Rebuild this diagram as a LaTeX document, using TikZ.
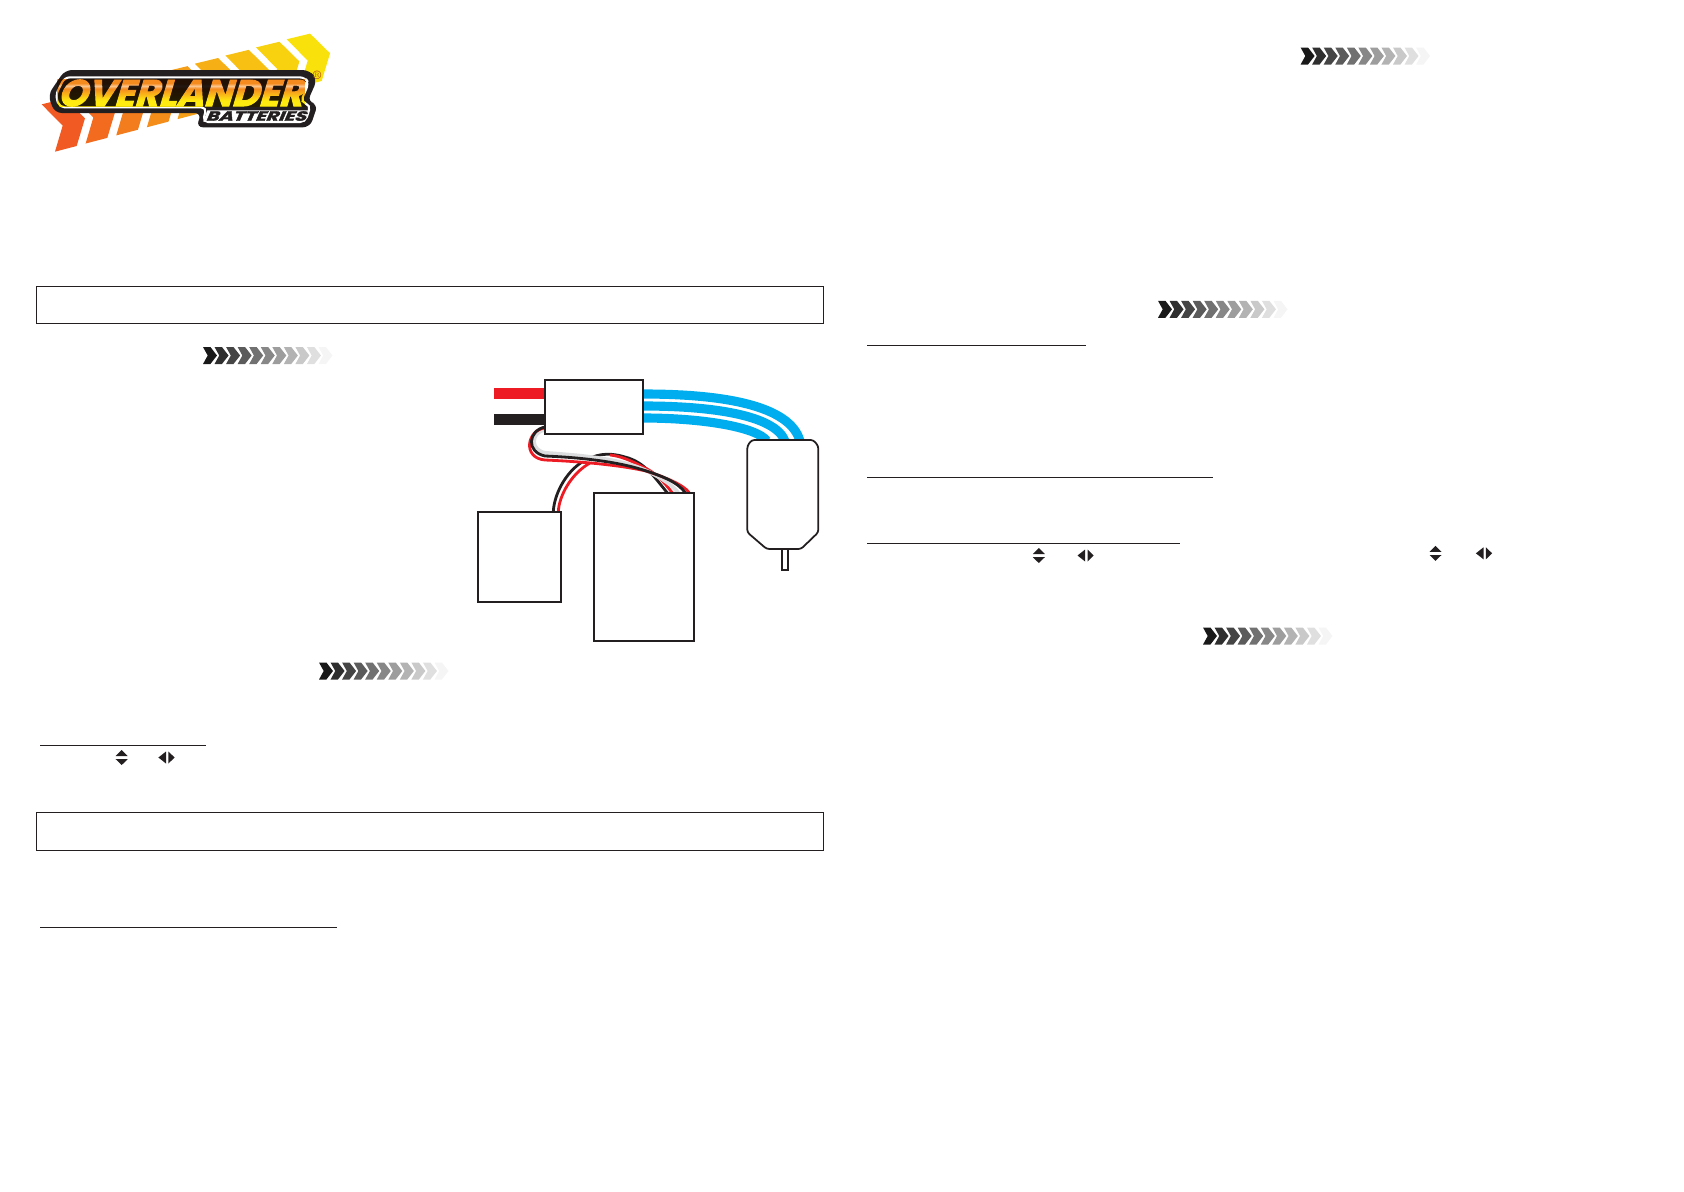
\documentclass[tikz,border=0pt]{standalone}
\usepackage{fontspec}
\usepackage{graphicx}
\usetikzlibrary{backgrounds}
\newfontfamily\logofont[FakeSlant=.3,BoldFeatures={FakeBold=2.5}]{Poppins}
\definecolor{inkblack}{HTML}{231F20}
\definecolor{wirered}{HTML}{ED1C24}
\definecolor{wireblue}{HTML}{00AEEF}
\definecolor{wiregray}{HTML}{DCDDDE}
\definecolor{logoorange}{HTML}{F15A22}
\definecolor{logoyellow}{HTML}{F9E20C}
\definecolor{bandlow}{HTML}{FFEB10}
\definecolor{bandmid}{HTML}{F58A1F}
\definecolor{bandlight}{HTML}{FBC58C}
\pgfdeclareverticalshading{logoband}{100bp}{color(0bp)=(bandlow);color(25bp)=(bandlow);color(36bp)=(bandlow);color(58bp)=(bandmid);color(63bp)=(bandlight);color(68bp)=(bandmid);color(75bp)=(bandmid);color(100bp)=(bandmid)}
\tikzset{
  sectionbox/.style={draw=inkblack, line width=.45pt, minimum width=15.75cm, inner sep=0pt, outer sep=0pt},
  partbox/.style={draw=inkblack, fill=white, line width=1pt, inner sep=0pt, outer sep=0pt},
  leadred/.style={draw=wirered, line width=1.6pt},
  leadblack/.style={draw=inkblack, line width=1.6pt},
  leadgray/.style={draw=wiregray, line width=2.2pt},
  motorlead/.style={draw=wireblue, line width=5.2pt},
  rule/.style={draw=inkblack, line width=.45pt},
  chevronstrip/.pic={
    \foreach \n in {0,...,10} {
      \pgfmathsetmacro\inkval{90-8.6*\n}
      \fill[black!\inkval] ({11.55*\n},-8.5) -- ++(7.4,0) -- ++(6.6,8.5) -- ++(-6.6,8.5) -- ++(-7.4,0) -- ++(4.7,-8.5) -- cycle;
    }
  },
  updownmark/.pic={
    \fill[inkblack] (-6,-1.5) -- (0,-7.5) -- (6,-1.5) -- cycle;
    \fill[inkblack] (-6,1.7) -- (0,7.5) -- (6,1.7) -- cycle;
  },
  leftrightmark/.pic={
    \fill[inkblack] (-1.2,-6) -- (-8.8,0) -- (-1.2,6) -- cycle;
    \fill[inkblack] (1.2,-6) -- (7.4,0) -- (1.2,6) -- cycle;
  }
}
\begin{document}
\begin{tikzpicture}[x=.02cm, y=-.02cm]
    \useasboundingbox (0,0) rectangle (1684,1191);

    \begin{scope}[shift={(20,20)}, x=.00667cm, y=-.00667cm]
        \foreach \k in {0,...,8} {
            \pgfmathsetmacro\mixval{\k*100/8}
            \fill[logoyellow!\mixval!logoorange] ({65+91.9*\k},{253-24.4*\k}) -- ++(70,-17) -- ++(60,59) -- ++(-25,83) -- ++(-65,17) -- ++(23,-78) -- cycle;
        }
        \fill[inkblack, rounded corners=4pt] (135,150) -- (868,150) -- (892,178) -- (862,246) -- (894,252) -- (870,322) -- (528,322) -- (545,279) -- (104,279) -- (84,225) -- cycle;
        \draw[white, line width=1.2pt, rounded corners=3pt] (134,172) -- (855,172) -- (866,190) -- (842,246) -- (872,255) -- (856,306) -- (548,306) -- (560,262) -- (118,262) -- (107,225) -- cycle;
        \fill[white] (562,271) -- (864,271) -- (854,305) -- (550,305) -- cycle;
        \node[text=white, inner sep=0pt] (logoname) at (480,219) {\resizebox{4.9cm}{.53cm}{\logofont\bfseries OVERLANDER}};
        \begin{scope}[blend mode=multiply]
            \shade[shading=logoband] (112,178) rectangle (855,260);
        \end{scope}
        \node[text=inkblack, inner sep=0pt] (logoline) at (707,288) {\resizebox{2cm}{.19cm}{\logofont\bfseries BATTERIES}};
        \node[text=logoorange!70!black, inner sep=0pt, font=\fontsize{7pt}{7pt}\selectfont] (regmark) at (891,167) {\textregistered};
    \end{scope}

    \node[sectionbox, minimum height=.74cm] (topbar) at (430,304.5) {};
    \node[sectionbox, minimum height=.76cm] (lowbar) at (430,831) {};

    \foreach \px/\py in {203/355.5, 319/671, 1300.6/56, 1158/309.3, 1203/636}
        \pic at (\px,\py) {chevronstrip};

    \draw[rule] (40,745) -- (206,745);
    \draw[rule] (40,927) -- (336.5,927);
    \draw[rule] (867,345) -- (1086,345);
    \draw[rule] (867,477) -- (1212.5,477);
    \draw[rule] (867,543.5) -- (1179.5,543.5);

    \pic at (121.7,757.5) {updownmark};
    \pic at (1038.8,555.5) {updownmark};
    \pic at (1435.5,553.3) {updownmark};
    \pic at (167.2,757.5) {leftrightmark};
    \pic at (1086.3,555.5) {leftrightmark};
    \pic at (1484.7,553.3) {leftrightmark};

    \node[partbox, minimum width=1.972cm, minimum height=1.08cm] (esc) at (594,407) {};
    \node[partbox, minimum width=1.666cm, minimum height=1.8cm] (receiver) at (519.3,557) {};
    \node[partbox, minimum width=2.006cm, minimum height=2.966cm] (pack) at (644.2,566.8) {};
    \coordinate (redend) at (494,393.3);
    \coordinate (blackend) at (494,419.3);

    \begin{scope}[on background layer]
        \draw[wirered, line width=6pt] (redend) -- (redend -| esc.west);
        \draw[inkblack, line width=6pt] (blackend) -- (blackend -| esc.west);

        \draw[motorlead] ([yshift=.26cm]esc.east) .. controls (722,394) and (790,405) .. (800,441);
        \draw[motorlead] ([yshift=.02cm]esc.east) .. controls (712,406) and (775,415) .. (785,441);
        \draw[motorlead] ([yshift=-.22cm]esc.east) .. controls (702,418) and (757,427) .. (767,441);

        \draw[leadblack] ([xshift=.68cm]receiver.north) .. controls (554,495) and (565,473) .. (582,462);
        \draw[leadred] ([xshift=.78cm]receiver.north) .. controls (559,495) and (572,473) .. (590,463);
        \draw[leadblack] ([xshift=.46cm]pack.north) .. controls (655,478) and (645,462) .. (625,457) .. controls (612,453) and (600,453) .. (588,459);
        \draw[leadred] ([xshift=.56cm]pack.north) .. controls (664,482) and (655,472) .. (643,467) .. controls (630,460) and (620,456) .. (610,455);
        \draw[leadgray] ([yshift=-.46cm]esc.west) .. controls (530,432) and (530,452) .. (547,453) .. controls (575,455) and (615,458) .. (640,468) .. controls (655,474) and (672,484) .. ([xshift=.68cm]pack.north);
        \draw[leadred] ([yshift=-.42cm]esc.west) .. controls (527,430) and (522,458) .. (545,460) .. controls (570,461) and (615,464) .. (646,471) .. controls (665,477) and (684,485) .. ([xshift=.9cm]pack.north);
        \draw[leadblack] ([yshift=-.4cm]esc.west) .. controls (528,431) and (526,452) .. (545,456) .. controls (570,457) and (610,460) .. (640,469) .. controls (660,475) and (678,482) .. ([xshift=.82cm]pack.north);
    \end{scope}

    \draw[inkblack, fill=white, line width=1pt, rounded corners=1.5pt] (751.7,440) -- (747.3,446) -- (747.3,532.3) -- (766.7,549) -- (801,549) -- (818.3,532.3) -- (818.3,446) -- (813.3,440) -- cycle;
    \draw[inkblack, fill=white, line width=1pt] (781.7,549) rectangle (788.3,570.3);
\end{tikzpicture}
\end{document}
